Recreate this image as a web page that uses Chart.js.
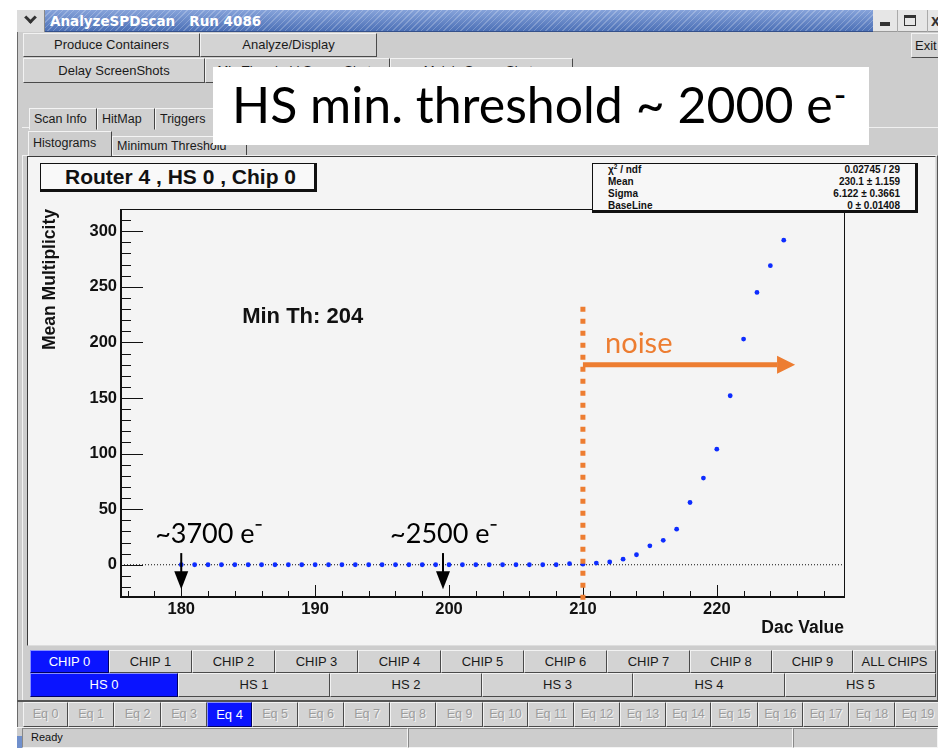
<!DOCTYPE html>
<html>
<head>
<meta charset="utf-8">
<script src="https://cdn.jsdelivr.net/npm/chart.js@4.4.0/dist/chart.umd.min.js"></script>
<style>
body { margin: 0; width: 938px; height: 748px; background: #fff; position: relative; overflow: hidden; font-family: "Liberation Sans", Arial, sans-serif; }
.a { position: absolute; box-sizing: border-box; }
.btn { position: absolute; box-sizing: border-box; background: #d3d3d3; border: 1px solid; border-color: #f2f2f2 #4a4a4a #4a4a4a #f2f2f2; font-size: 13px; color: #1a1a1a; text-align: center; white-space: nowrap; overflow: hidden; }
.sel { background: #0a14ff; color: #fff; border-color: #8890ff #000060 #000060 #8890ff; }
.eq { color: #9c9c9c; text-shadow: 1px 1px 0 #f4f4f4; font-size: 12.5px; }
.tab { position: absolute; box-sizing: border-box; background: #d0d0d0; border: 1px solid; border-color: #f4f4f4 #444 transparent #f4f4f4; font-size: 12.5px; color: #1a1a1a; padding-left: 4px; white-space: nowrap; }
#stats div { height: 12px; line-height: 12px; font-size: 10px; font-weight: bold; color: #111; position: relative; }
#stats span { position: absolute; right: 15px; }
</style>
</head>
<body>
<!-- window -->
<div class="a" style="left:17px;top:10px;width:921px;height:738px;background:#cdcdcd;border-left:1px solid #6a6a6a;"></div>
<div class="a" style="left:17px;top:10px;width:856px;height:22px;background:repeating-linear-gradient(135deg, rgba(255,255,255,0.22) 0 1px, rgba(255,255,255,0) 1px 4px), linear-gradient(#86a3da,#4c70b6);border-bottom:1px solid #34508a;"></div>
<div class="a" style="left:17px;top:10px;width:28px;height:22px;background:#dcdcdc;border-right:1px solid #888;"></div>
<div class="a" style="left:26px;top:13px;width:9px;height:9px;border-right:3px solid #333;border-bottom:3px solid #333;transform:rotate(45deg);"></div>
<div class="a" style="left:50px;top:10px;height:22px;line-height:22px;color:#fff;font-family:'DejaVu Sans';font-weight:bold;font-size:13.5px;white-space:pre;">AnalyzeSPDscan   Run 4086</div>
<div class="a" style="left:873px;top:10px;width:65px;height:22px;background:#e6e6e6;border-bottom:1px solid #999;"></div>
<div class="a" style="left:897px;top:10px;width:1px;height:22px;background:#aaa;"></div>
<div class="a" style="left:927px;top:10px;width:1px;height:22px;background:#aaa;"></div>
<div class="a" style="left:880px;top:22px;width:10px;height:4px;background:#333;"></div>
<div class="a" style="left:904px;top:15px;width:12px;height:11px;border:1.5px solid #333;border-top-width:3px;"></div>
<div class="a" style="left:931px;top:14px;width:7px;height:13px;color:#333;font-weight:bold;font-size:16px;line-height:13px;overflow:hidden;">x</div>

<!-- button rows -->
<div class="btn" style="left:23px;top:33px;width:177px;height:24px;line-height:22px;">Produce Containers</div>
<div class="btn" style="left:200px;top:33px;width:177px;height:24px;line-height:22px;">Analyze/Display</div>
<div class="btn" style="left:911px;top:33px;width:30px;height:25px;line-height:23px;text-align:left;padding-left:3px;">Exit</div>
<div class="btn" style="left:23px;top:58px;width:182px;height:25px;line-height:23px;">Delay ScreenShots</div>
<div class="btn" style="left:205px;top:58px;width:185px;height:25px;line-height:23px;">Min Threshold ScreenShots</div>
<div class="btn" style="left:390px;top:58px;width:183px;height:25px;line-height:23px;">Mainly ScreenShots</div>
<div class="a" style="left:22px;top:127px;width:916px;height:1px;background:#f0f0f0;"></div>

<!-- tabs -->
<div class="tab" style="left:29px;top:108px;width:68px;height:22px;line-height:20px;">Scan Info</div>
<div class="tab" style="left:97px;top:108px;width:58px;height:22px;line-height:20px;">HitMap</div>
<div class="tab" style="left:155px;top:108px;width:62px;height:22px;line-height:20px;">Triggers</div>
<div class="tab" style="left:112px;top:136px;width:135px;height:20px;line-height:18px;">Minimum Threshold</div>
<div class="a" style="left:22px;top:155px;width:916px;height:546px;border:1px solid;border-color:#f2f2f2 #555 #555 #f2f2f2;"></div>
<div class="tab" style="left:28px;top:131px;width:84px;height:26px;line-height:22px;background:#cdcdcd;border-bottom:none;">Histograms</div>

<!-- ROOT canvas -->
<div class="a" style="left:27px;top:156px;width:909px;height:490px;border:1px solid #3a3a3a;border-right-color:#ddd;border-bottom-color:#ddd;"></div>
<canvas id="chart" class="a" width="907" height="488" style="left:28px;top:157px;width:907px;height:488px;background:#f4f4f4;"></canvas>

<div class="a" style="left:40px;top:163px;width:277px;height:29px;background:#f9f9f9;border:1.5px solid #111;border-right-width:3px;border-bottom-width:3px;font-weight:bold;font-size:21px;line-height:25px;padding-left:24px;color:#111;">Router 4 , HS 0 , Chip 0</div>
<div id="stats" class="a" style="left:592px;top:163px;width:326px;height:50px;background:#f7f7f7;border:1px solid #111;border-right-width:3px;border-bottom-width:3px;padding-left:15px;padding-top:0;">
  <div>χ<sup style="font-size:6.5px;line-height:0;vertical-align:4px;">2</sup> / ndf<span>0.02745 / 29</span></div>
  <div>Mean<span>230.1 ± 1.159</span></div>
  <div>Sigma<span>6.122 ± 0.3661</span></div>
  <div>BaseLine<span>0 ± 0.01408</span></div>
</div>

<!-- slide title -->
<div class="a" style="left:213px;top:67px;width:656px;height:78px;background:#fff;padding-left:19px;font-family:Lato,'Open Sans',sans-serif;font-weight:400;font-size:50px;line-height:74px;color:#000;white-space:nowrap;">HS min. threshold ~ 2000 e<span style="font-size:34px;vertical-align:16px;line-height:0;margin-left:1px;">-</span></div>

<!-- bottom selectors -->
<div id="chips"></div>
<div id="hs"></div>
<div class="a" style="left:17px;top:700px;width:921px;height:2px;background:#555;"></div>
<div id="eqs"></div>
<div class="a" style="left:17px;top:727px;width:921px;height:21px;background:#cdcdcd;border-top:1px solid #f0f0f0;"></div>
<div class="a" style="left:22px;top:728px;width:386px;height:20px;border:1px solid;border-color:#888 #f4f4f4 #f4f4f4 #888;font-size:11px;line-height:17px;padding-left:8px;color:#111;">Ready</div>
<div class="a" style="left:408px;top:728px;width:385px;height:20px;border:1px solid;border-color:#888 #f4f4f4 #f4f4f4 #888;"></div>
<div class="a" style="left:793px;top:728px;width:145px;height:20px;border:1px solid;border-color:#888 #f4f4f4 #f4f4f4 #888;"></div>
<div class="a" style="left:17px;top:736px;width:5px;height:12px;background:#6f8fcc;"></div>

<script>
// scan data: DAC value vs mean multiplicity (Router 4, HS 0, Chip 0)
const dacValues = [180, 181, 182, 183, 184, 185, 186, 187, 188, 189,
  190, 191, 192, 193, 194, 195, 196, 197, 198, 199,
  200, 201, 202, 203, 204, 205, 206, 207, 208, 209,
  210, 211, 212, 213, 214, 215, 216, 217, 218, 219,
  220, 221, 222, 223, 224, 225];
const multiplicity = [0, 0, 0, 0, 0, 0, 0, 0, 0, 0,
  0, 0, 0, 0, 0, 0, 0, 0, 0, 0,
  0, 0, 0, 0, 0, 0, 0, 0, 0, 1,
  0.5, 1.5, 2.5, 5, 9, 17, 22, 32, 56, 78,
  104, 152, 203, 245, 269, 292];
const baseLine = 0;
const xRange = [175.5, 229.5];
const yRange = [-29, 320];
const xTickValues = [180, 190, 200, 210, 220];
const yTickValues = [0, 50, 100, 150, 200, 250, 300];
const minThreshold = 204;
const noiseStart = 210;

const chipNames = ['CHIP 0', 'CHIP 1', 'CHIP 2', 'CHIP 3', 'CHIP 4', 'CHIP 5', 'CHIP 6', 'CHIP 7', 'CHIP 8', 'CHIP 9', 'ALL CHIPS'];
const hsNames = ['HS 0', 'HS 1', 'HS 2', 'HS 3', 'HS 4', 'HS 5'];
const eqNames = ['Eq 0', 'Eq 1', 'Eq 2', 'Eq 3', 'Eq 4', 'Eq 5', 'Eq 6', 'Eq 7', 'Eq 8', 'Eq 9',
  'Eq 10', 'Eq 11', 'Eq 12', 'Eq 13', 'Eq 14', 'Eq 15', 'Eq 16', 'Eq 17', 'Eq 18', 'Eq 19'];

function buttonRow(id, names, edges, top, height, selected, extra) {
  let box = document.getElementById(id);
  names.forEach((n, i) => {
    let d = document.createElement('div');
    d.className = 'btn' + (i == selected ? ' sel' : '') + (extra && i != selected ? ' ' + extra : '');
    d.style.left = edges[i] + 'px';
    d.style.top = top + 'px';
    d.style.width = (edges[i + 1] - edges[i]) + 'px';
    d.style.height = height + 'px';
    d.style.lineHeight = (height - 2) + 'px';
    d.textContent = n;
    box.appendChild(d);
  });
}
buttonRow('chips', chipNames, [30, 109, 192, 275, 358, 441, 524, 607, 690, 772, 853, 936], 650, 23, 0);
buttonRow('hs', hsNames, [30, 178, 330, 482, 633, 785, 936], 673, 24, 0);
buttonRow('eqs', eqNames, [23, 68, 114, 161, 207, 252, 298, 344, 390, 436, 483, 528, 574, 620, 666, 711, 758, 803, 849, 895, 941], 702, 25, 4, 'eq');

// frame + inward ticks, ROOT style
const rootFrame = {
  id: 'rootFrame',
  beforeDatasetsDraw(chart) {
    const {ctx, chartArea: a, scales: {x, y}} = chart;
    ctx.save();
    ctx.strokeStyle = '#111';
    ctx.lineWidth = 1;
    ctx.strokeRect(a.left + 0.5, a.top + 0.5, a.right - a.left, a.bottom - a.top);
    ctx.lineWidth = 2;
    ctx.beginPath();
    ctx.moveTo(a.left, a.top);
    ctx.lineTo(a.left, a.bottom);
    ctx.lineTo(a.right, a.bottom);
    ctx.stroke();
    ctx.lineWidth = 1;
    ctx.beginPath();
    for (let v = -20; v <= 320; v += 10) {
      let py = Math.round(y.getPixelForValue(v)) + 0.5;
      let len = yTickValues.includes(v) ? 22 : 10;
      ctx.moveTo(a.left, py);
      ctx.lineTo(a.left + len, py);
    }
    for (let v = 176; v <= 228; v += 2) {
      let px = Math.round(x.getPixelForValue(v)) + 0.5;
      let len = xTickValues.includes(v) ? 12 : 6;
      ctx.moveTo(px, a.bottom);
      ctx.lineTo(px, a.bottom - len);
    }
    ctx.stroke();
    ctx.restore();
  }
};

function downArrow(ctx, px, y0, y1) {
  ctx.beginPath();
  ctx.moveTo(px, y0);
  ctx.lineTo(px, y1 - 16);
  ctx.stroke();
  ctx.beginPath();
  ctx.moveTo(px - 7, y1 - 18);
  ctx.lineTo(px + 7, y1 - 18);
  ctx.lineTo(px, y1);
  ctx.closePath();
  ctx.fill();
}

function electrons(ctx, txt, px, py) {
  ctx.fillText(txt, px, py);
  let w = ctx.measureText(txt).width;
  ctx.fillRect(px + w + 1, py - 19, 6, 1.6);
}

const notes = {
  id: 'notes',
  afterDatasetsDraw(chart) {
    const {ctx, chartArea: a, scales: {x, y}} = chart;
    ctx.save();
    ctx.fillStyle = '#111';
    ctx.font = 'bold 22px "Liberation Sans"';
    ctx.textBaseline = 'middle';
    ctx.fillText('Min Th: ' + minThreshold, x.getPixelForValue(184.55), y.getPixelForValue(223));

    // noise region
    const orange = '#ed7d31';
    let nx = x.getPixelForValue(noiseStart);
    ctx.strokeStyle = orange;
    ctx.fillStyle = orange;
    ctx.lineWidth = 5;
    ctx.setLineDash([5, 7]);
    ctx.beginPath();
    ctx.moveTo(nx, y.getPixelForValue(232));
    ctx.lineTo(nx, a.bottom + 3);
    ctx.stroke();
    ctx.setLineDash([]);
    let ay = y.getPixelForValue(180);
    let tip = x.getPixelForValue(225.85);
    let head = x.getPixelForValue(224.5);
    ctx.beginPath();
    ctx.moveTo(nx, ay);
    ctx.lineTo(head, ay);
    ctx.stroke();
    ctx.beginPath();
    ctx.moveTo(head, ay - 9);
    ctx.lineTo(tip, ay);
    ctx.lineTo(head, ay + 9);
    ctx.closePath();
    ctx.fill();
    ctx.font = '400 29px Lato';
    ctx.textBaseline = 'alphabetic';
    ctx.fillText('noise', x.getPixelForValue(211.65), y.getPixelForValue(190.5));

    // threshold markers
    ctx.fillStyle = '#000';
    ctx.strokeStyle = '#000';
    ctx.lineWidth = 2;
    ctx.font = '400 27px Lato';
    electrons(ctx, '~3700 e', x.getPixelForValue(178.05), y.getPixelForValue(19.5));
    electrons(ctx, '~2500 e', x.getPixelForValue(195.6), y.getPixelForValue(19.5));
    downArrow(ctx, x.getPixelForValue(180), y.getPixelForValue(10.5), y.getPixelForValue(-22));
    downArrow(ctx, x.getPixelForValue(199.55), y.getPixelForValue(10.5), y.getPixelForValue(-22));
    ctx.restore();
  }
};

const tickFont = {family: '"Liberation Sans", Arial, sans-serif', weight: 'bold', size: 16.5};

new Chart(document.getElementById('chart'), {
  type: 'scatter',
  data: {
    datasets: [
      {
        label: 'Mean Multiplicity',
        data: dacValues.map((d, i) => ({x: d, y: multiplicity[i]})),
        pointRadius: 2.4,
        pointBackgroundColor: '#0d2cff',
        pointBorderColor: '#0d2cff',
        pointBorderWidth: 0,
        showLine: false
      },
      {
        label: 'BaseLine',
        type: 'line',
        data: [{x: xRange[0], y: baseLine}, {x: xRange[1], y: baseLine}],
        borderColor: '#111',
        borderWidth: 1,
        borderDash: [1, 2],
        pointRadius: 0
      }
    ]
  },
  options: {
    responsive: false,
    animation: false,
    devicePixelRatio: 1,
    layout: {padding: {left: 0, top: 52, right: 91, bottom: 0}},
    plugins: {legend: {display: false}, tooltip: {enabled: false}},
    scales: {
      x: {
        type: 'linear',
        min: xRange[0],
        max: xRange[1],
        grid: {display: false, drawTicks: false},
        border: {display: false},
        afterBuildTicks: s => { s.ticks = xTickValues.map(v => ({value: v})); },
        afterFit: s => { s.height = 48; },
        ticks: {font: tickFont, color: '#111', padding: 3, maxRotation: 0, autoSkip: false},
        title: {display: true, text: 'Dac Value', align: 'end', color: '#111',
          font: {family: '"Liberation Sans", Arial, sans-serif', weight: 'bold', size: 17.5}, padding: {top: 0, bottom: 6}}
      },
      y: {
        min: yRange[0],
        max: yRange[1],
        grid: {display: false, drawTicks: false},
        border: {display: false},
        afterBuildTicks: s => { s.ticks = yTickValues.map(v => ({value: v})); },
        afterFit: s => { s.width = 93; },
        ticks: {font: tickFont, color: '#111', padding: 4, autoSkip: false},
        title: {display: true, text: 'Mean Multiplicity', align: 'end', color: '#111',
          font: {family: '"Liberation Sans", Arial, sans-serif', weight: 'bold', size: 17.5}, padding: {top: 12, bottom: 0}}
      }
    }
  },
  plugins: [rootFrame, notes]
});
</script>
</body>
</html>
